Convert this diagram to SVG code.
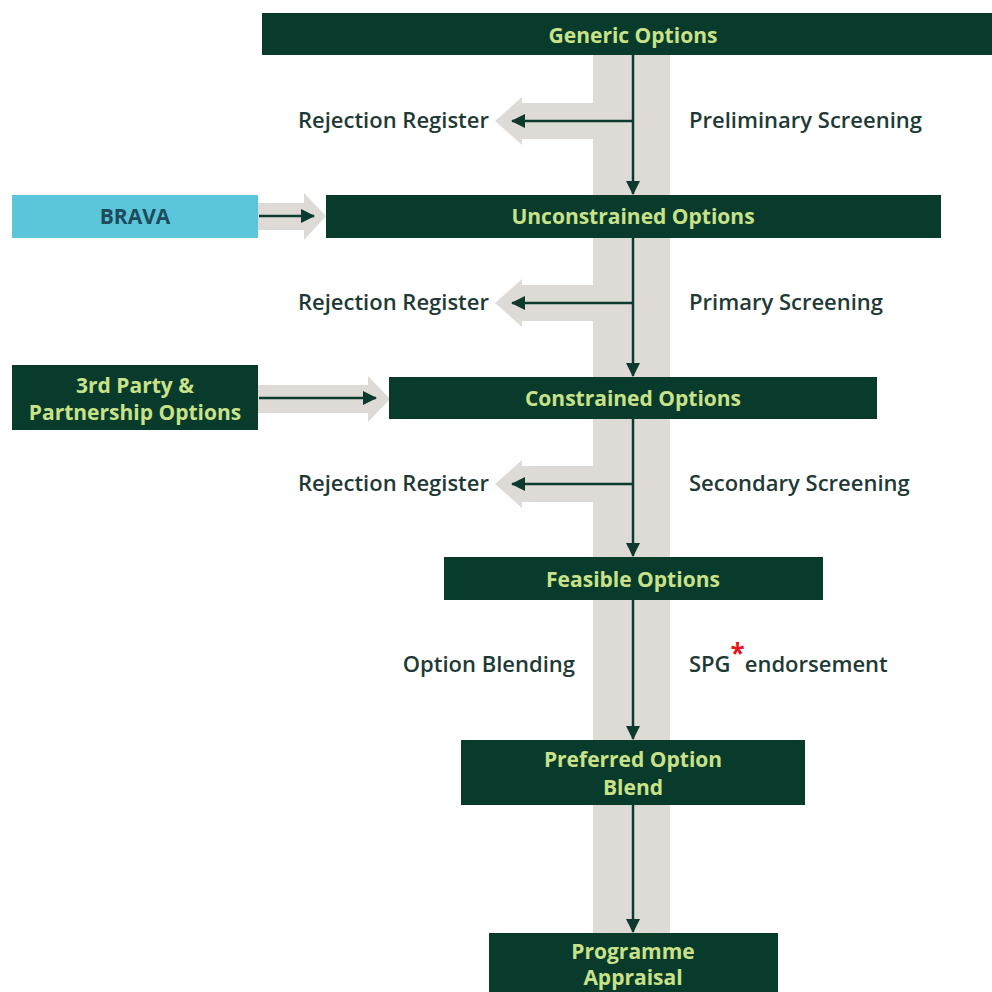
<svg xmlns="http://www.w3.org/2000/svg" width="992" height="992" viewBox="0 0 992 992">
<defs>
<marker id="ahb" markerWidth="14" markerHeight="14" refX="13" refY="7" orient="auto" markerUnits="userSpaceOnUse" viewBox="0 0 14 14"><path d="M0,0 L14,7 L0,14 Z" fill="#0d3a2c"/></marker>
<style>
.box{fill:#083b2b}
.bt{font-family:"Open Sans",Lato,sans-serif;font-weight:bold;font-size:21px;fill:#c9e28a;text-anchor:middle}
.lb{font-family:"Open Sans",Lato,sans-serif;font-weight:600;font-size:22px;fill:#1f3a36}
.band{fill:#dedbd7}
.ln{stroke:#0d3a2c;stroke-width:2.5;fill:none}
</style>
</defs>
<rect width="992" height="992" fill="#ffffff"/>
<g id="background-bands">
<rect class="band" x="593" y="55" width="77" height="880"/>
<polygon class="band" points="593,103 522,103 522,97 495,121 522,145 522,139 593,139"/>
<polygon class="band" points="593,285 522,285 522,279 495,303 522,327 522,321 593,321"/>
<polygon class="band" points="593,466 522,466 522,460 495,484 522,508 522,502 593,502"/>
<polygon class="band" points="258,203 304,203 304,193 326,216 304,240 304,230 258,230"/>
<polygon class="band" points="258,385 368,385 368,376 390,399 368,422 368,413 258,413"/>
</g>
<g id="connectors">
<line class="ln" x1="633" y1="55" x2="633" y2="194" marker-end="url(#ahb)"/>
<line class="ln" x1="633" y1="121" x2="512" y2="121" marker-end="url(#ahb)"/>
<line class="ln" x1="633" y1="238" x2="633" y2="376" marker-end="url(#ahb)"/>
<line class="ln" x1="633" y1="303" x2="512" y2="303" marker-end="url(#ahb)"/>
<line class="ln" x1="633" y1="419" x2="633" y2="556" marker-end="url(#ahb)"/>
<line class="ln" x1="633" y1="484" x2="512" y2="484" marker-end="url(#ahb)"/>
<line class="ln" x1="633" y1="600" x2="633" y2="739" marker-end="url(#ahb)"/>
<line class="ln" x1="633" y1="805" x2="633" y2="932" marker-end="url(#ahb)"/>
<line class="ln" x1="259" y1="216" x2="314" y2="216" marker-end="url(#ahb)"/>
<line class="ln" x1="259" y1="398" x2="376" y2="398" marker-end="url(#ahb)"/>
</g>
<g id="generic-options">
<rect class="box" x="262" y="13" width="730" height="42"/>
<text class="bt" x="633" y="43">Generic Options</text>
</g>
<g id="unconstrained-options">
<rect class="box" x="326" y="195" width="615" height="43"/>
<text class="bt" x="633" y="224">Unconstrained Options</text>
</g>
<g id="brava">
<rect x="12" y="195" width="246" height="43" fill="#5bc6da"/>
<text class="bt" x="135" y="224" style="fill:#1d4a5c">BRAVA</text>
</g>
<g id="third-party">
<rect class="box" x="12" y="365" width="246" height="65"/>
<text class="bt" x="135" y="393">3rd Party &amp;</text>
<text class="bt" x="135" y="420">Partnership Options</text>
</g>
<g id="constrained-options">
<rect class="box" x="389" y="377" width="488" height="42"/>
<text class="bt" x="633" y="406">Constrained Options</text>
</g>
<g id="feasible-options">
<rect class="box" x="444" y="557" width="379" height="43"/>
<text class="bt" x="633" y="587">Feasible Options</text>
</g>
<g id="preferred-option-blend">
<rect class="box" x="461" y="740" width="344" height="65"/>
<text class="bt" x="633" y="767">Preferred Option</text>
<text class="bt" x="633" y="795">Blend</text>
</g>
<g id="programme-appraisal">
<rect class="box" x="489" y="933" width="289" height="70"/>
<text class="bt" x="633" y="959">Programme</text>
<text class="bt" x="633" y="985">Appraisal</text>
</g>
<g id="labels">
<text class="lb" x="489" y="128" text-anchor="end">Rejection Register</text>
<text class="lb" x="689" y="128">Preliminary Screening</text>
<text class="lb" x="489" y="310" text-anchor="end">Rejection Register</text>
<text class="lb" x="689" y="310">Primary Screening</text>
<text class="lb" x="489" y="491" text-anchor="end">Rejection Register</text>
<text class="lb" x="689" y="491">Secondary Screening</text>
<text class="lb" x="575" y="672" text-anchor="end">Option Blending</text>
<text class="lb" x="689" y="672">SPG<tspan dx="0" dy="-9" fill="#e8141c" font-size="26" font-weight="bold">*</tspan><tspan dy="9">endorsement</tspan></text>
</g>
</svg>
